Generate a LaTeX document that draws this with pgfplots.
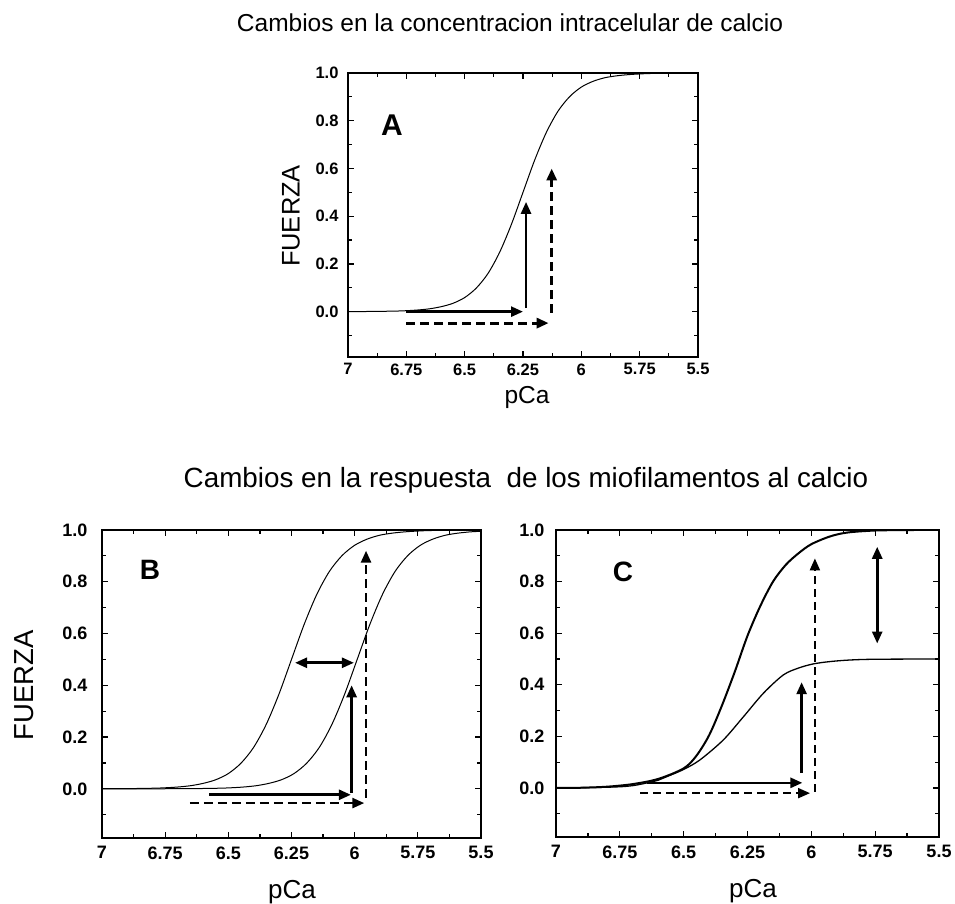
\documentclass[border=0pt]{standalone}
\usepackage{fontspec}
\setmainfont{Liberation Sans}
\usepackage{pgfplots}
\pgfplotsset{compat=1.18}
\usetikzlibrary{arrows.meta}

% curve in panel A (and left curve in B)
\pgfplotstableread{
x y
7.0 0.0003
6.9 0.0008
6.8 0.0023
6.75 0.004
6.7 0.007
6.65 0.012
6.6 0.021
6.55 0.035
6.5 0.059
6.45 0.099
6.4 0.160
6.35 0.249
6.3 0.365
6.25 0.5
6.2 0.635
6.15 0.751
6.1 0.840
6.05 0.901
6.0 0.941
5.95 0.965
5.9 0.980
5.85 0.988
5.8 0.993
5.75 0.996
5.7 0.998
5.6 0.999
5.5 1.0
}\curveA

% right curve in B
\pgfplotstableread{
x y
7.0 0.0
6.75 0.0003
6.64 0.0008
6.54 0.0023
6.49 0.004
6.44 0.007
6.39 0.012
6.34 0.021
6.29 0.035
6.24 0.059
6.19 0.099
6.14 0.160
6.09 0.249
6.04 0.365
5.99 0.5
5.94 0.635
5.89 0.751
5.84 0.840
5.79 0.901
5.74 0.941
5.69 0.965
5.64 0.980
5.59 0.988
5.54 0.993
5.5 0.995
}\curveBright

% C, upper curve
\pgfplotstableread{
x y
7.0 0.0
6.9 0.001
6.8 0.005
6.7 0.015
6.6 0.035
6.5 0.076
6.45 0.125
6.4 0.205
6.35 0.32
6.3 0.45
6.25 0.59
6.2 0.705
6.15 0.80
6.1 0.865
6.05 0.91
6.0 0.945
5.927 0.975
5.86 0.99
5.75 0.998
5.6 1.0
5.5 1.0
}\curveCup

% C, lower curve
\pgfplotstableread{
x y
7.0 0.0
6.8 0.003
6.7 0.009
6.6 0.030
6.566 0.044
6.5 0.072
6.436 0.109
6.345 0.186
6.266 0.276
6.188 0.367
6.110 0.438
6.05 0.465
5.992 0.481
5.927 0.49
5.85 0.496
5.75 0.499
5.5 0.5
}\curveClow

\pgfplotsset{
  panel/.style={
    scale only axis,
    x dir=reverse,
    xmin=5.5, xmax=7, ymin=-0.19, ymax=1.0,
    xtick={5.5,5.75,6,6.25,6.5,6.75,7},
    xticklabels={5.5,5.75,6,6.25,6.5,6.75,7},
    minor xtick={5.625,5.875,6.125,6.375,6.625,6.875},
    ytick={0,0.2,0.4,0.6,0.8,1.0},
    yticklabels={0.0,0.2,0.4,0.6,0.8,1.0},
    minor ytick={-0.1,0.1,0.3,0.5,0.7,0.9},
    tick align=inside,
    major tick length=6pt, minor tick length=4pt,
    every tick/.style={black, line width=1.2pt},
    axis line style={line width=1.6pt},
  },
}
\tikzset{
  arr/.style={-{Triangle[length=12pt,width=10pt]}, line width=2.6pt},
  darr/.style={{Triangle[length=12pt,width=10pt]}-{Triangle[length=12pt,width=10pt]}, line width=2.6pt},
}

\begin{document}
\begin{tikzpicture}
\path[use as bounding box] (0pt,0pt) rectangle (955pt,903pt);

% ---------- A ----------
\node[font=\fontsize{24.5}{28}\selectfont] at (510pt,880pt) {Cambios en la concentracion intracelular de calcio};
\begin{axis}[panel, at={(348pt,546pt)}, width=350pt, height=284pt,
  tick label style={font=\fontsize{16.5}{19}\selectfont\bfseries},
  yticklabel style={xshift=-6pt}, xticklabel style={yshift=-3pt}]
\addplot[black, line width=1pt, smooth] table {\curveA};
\draw[arr] (axis cs:6.75,0.0) -- (axis cs:6.25,0.0);
\draw[arr] (axis cs:6.237,0.015) -- (axis cs:6.237,0.46);
\draw[arr, line width=3pt, dash pattern=on 9pt off 5pt] (axis cs:6.75,-0.048) -- (axis cs:6.14,-0.048);
\draw[arr, line width=3pt, dash pattern=on 9pt off 5pt] (axis cs:6.127,-0.005) -- (axis cs:6.127,0.60);
\end{axis}
\node[font=\fontsize{30}{32}\selectfont\bfseries] at (392pt,778pt) {A};
\node[font=\fontsize{24.5}{28}\selectfont, anchor=base] at (527pt,499pt) {pCa};
\node[font=\fontsize{25.5}{28}\selectfont, rotate=90] at (291pt,687pt) {FUERZA};

% ---------- B / C title ----------
\node[font=\fontsize{27.8}{31}\selectfont] at (526pt,423pt) {Cambios en la respuesta\ \ de los miofilamentos al calcio};

% ---------- B ----------
\begin{axis}[panel, at={(102pt,65pt)}, width=379pt, height=308pt,
  tick label style={font=\fontsize{18}{21}\selectfont\bfseries},
  yticklabel style={xshift=-11pt}, xticklabel style={yshift=-5pt}]
\addplot[black, line width=1pt, smooth] table {\curveA};
\addplot[black, line width=1pt, smooth] table {\curveBright};
\draw[arr] (axis cs:6.575,-0.023) -- (axis cs:6.015,-0.023);
\draw[arr] (axis cs:6.012,-0.016) -- (axis cs:6.012,0.40);
\draw[arr, dash pattern=on 9pt off 5pt] (axis cs:6.652,-0.055) -- (axis cs:5.962,-0.055);
\draw[arr, dash pattern=on 9pt off 5pt] (axis cs:5.955,-0.035) -- (axis cs:5.955,0.92);
\draw[darr] (axis cs:6.236,0.487) -- (axis cs:6.003,0.487);
\end{axis}
\node[font=\fontsize{28}{30}\selectfont\bfseries] at (150pt,333pt) {B};
\node[font=\fontsize{26}{28}\selectfont, anchor=base] at (292pt,5pt) {pCa};
\node[font=\fontsize{27.5}{30}\selectfont, rotate=90] at (24pt,218pt) {FUERZA};

% ---------- C ----------
\begin{axis}[panel, at={(556pt,66pt)}, width=383pt, height=307pt,
  tick label style={font=\fontsize{18}{21}\selectfont\bfseries},
  yticklabel style={xshift=-8pt}, xticklabel style={yshift=-5pt}]
\addplot[black, line width=2pt, smooth] table {\curveCup};
\addplot[black, line width=1.3pt, smooth] table {\curveClow};
\draw[arr] (axis cs:6.645,0.02) -- (axis cs:6.035,0.02);
\draw[arr] (axis cs:6.038,0.058) -- (axis cs:6.038,0.41);
\draw[arr, line width=2pt, dash pattern=on 8pt off 5pt] (axis cs:6.671,-0.02) -- (axis cs:6.005,-0.02);
\draw[arr, line width=2pt, dash pattern=on 8pt off 5pt] (axis cs:5.986,-0.014) -- (axis cs:5.986,0.89);
\draw[darr] (axis cs:5.742,0.56) -- (axis cs:5.742,0.935);
\end{axis}
\node[font=\fontsize{28}{30}\selectfont\bfseries] at (623pt,331pt) {C};
\node[font=\fontsize{26}{28}\selectfont, anchor=base] at (753pt,6pt) {pCa};
\end{tikzpicture}
\end{document}
